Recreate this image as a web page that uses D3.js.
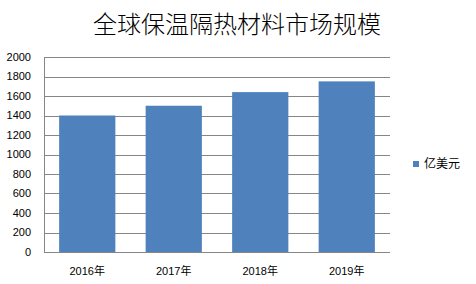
<!DOCTYPE html>
<html>
<head>
<meta charset="utf-8">
<script src="https://cdn.jsdelivr.net/npm/d3@7"></script>
<style>
  body { margin: 0; background: #fff; }
  svg { display: block; }
</style>
</head>
<body>
<script>
const years = ["2016年", "2017年", "2018年", "2019年"];
const values = [1400, 1500, 1640, 1750];
const yTicks = [0, 200, 400, 600, 800, 1000, 1200, 1400, 1600, 1800, 2000];
const title = "全球保温隔热材料市场规模";
const seriesName = "亿美元";

const width = 476, height = 284;
const plot = { left: 44, right: 390, top: 57, bottom: 252 };
const barColor = "#4F81BD";
const gridColor = "#868686";

const svg = d3.select("body").append("svg")
  .attr("width", width)
  .attr("height", height);

const x = d3.scaleBand()
  .domain(years)
  .range([plot.left, plot.right])
  .paddingInner(0.35)
  .paddingOuter(0.175);

const y = d3.scaleLinear()
  .domain([0, 2000])
  .range([plot.bottom, plot.top]);

// gridlines
svg.append("g")
  .selectAll("line")
  .data(yTicks)
  .join("line")
  .attr("x1", plot.left)
  .attr("x2", plot.right)
  .attr("y1", d => Math.round(y(d)) + 0.5)
  .attr("y2", d => Math.round(y(d)) + 0.5)
  .attr("stroke", gridColor)
  .attr("stroke-width", 1);

// left axis line
svg.append("line")
  .attr("x1", plot.left + 0.5)
  .attr("x2", plot.left + 0.5)
  .attr("y1", plot.top)
  .attr("y2", plot.bottom)
  .attr("stroke", gridColor);

// bars
svg.append("g")
  .selectAll("rect")
  .data(values)
  .join("rect")
  .attr("x", (d, i) => x(years[i]))
  .attr("width", x.bandwidth())
  .attr("y", d => y(d))
  .attr("height", d => y(0) - y(d))
  .attr("fill", barColor);

// y tick labels
svg.append("g")
  .selectAll("text")
  .data(yTicks)
  .join("text")
  .attr("x", 31)
  .attr("y", d => y(d))
  .attr("dy", "0.35em")
  .attr("text-anchor", "end")
  .attr("font-family", "'Liberation Sans', Arial, sans-serif")
  .attr("font-size", 11)
  .attr("fill", "#000")
  .text(d => d);

// x labels
svg.append("g")
  .selectAll("text")
  .data(years)
  .join("text")
  .attr("x", d => x(d) + x.bandwidth() / 2)
  .attr("y", 275)
  .attr("text-anchor", "middle")
  .attr("font-family", "'Liberation Sans', 'Noto Sans CJK SC', sans-serif")
  .attr("font-size", 11)
  .attr("fill", "#000")
  .text(d => d);

// title
svg.append("text")
  .attr("x", 237)
  .attr("y", 33)
  .attr("text-anchor", "middle")
  .attr("font-family", "'Noto Sans CJK SC', sans-serif")
  .attr("font-weight", 300)
  .attr("font-size", 24)
  .attr("fill", "#000")
  .text(title);

// legend
const legend = svg.append("g").attr("transform", "translate(413,161)");
legend.append("rect")
  .attr("width", 6)
  .attr("height", 6)
  .attr("fill", barColor);
legend.append("text")
  .attr("x", 11)
  .attr("y", 3)
  .attr("dy", "0.35em")
  .attr("font-family", "'Noto Sans CJK SC', sans-serif")
  .attr("font-size", 12)
  .attr("fill", "#000")
  .text(seriesName);
</script>
</body>
</html>
